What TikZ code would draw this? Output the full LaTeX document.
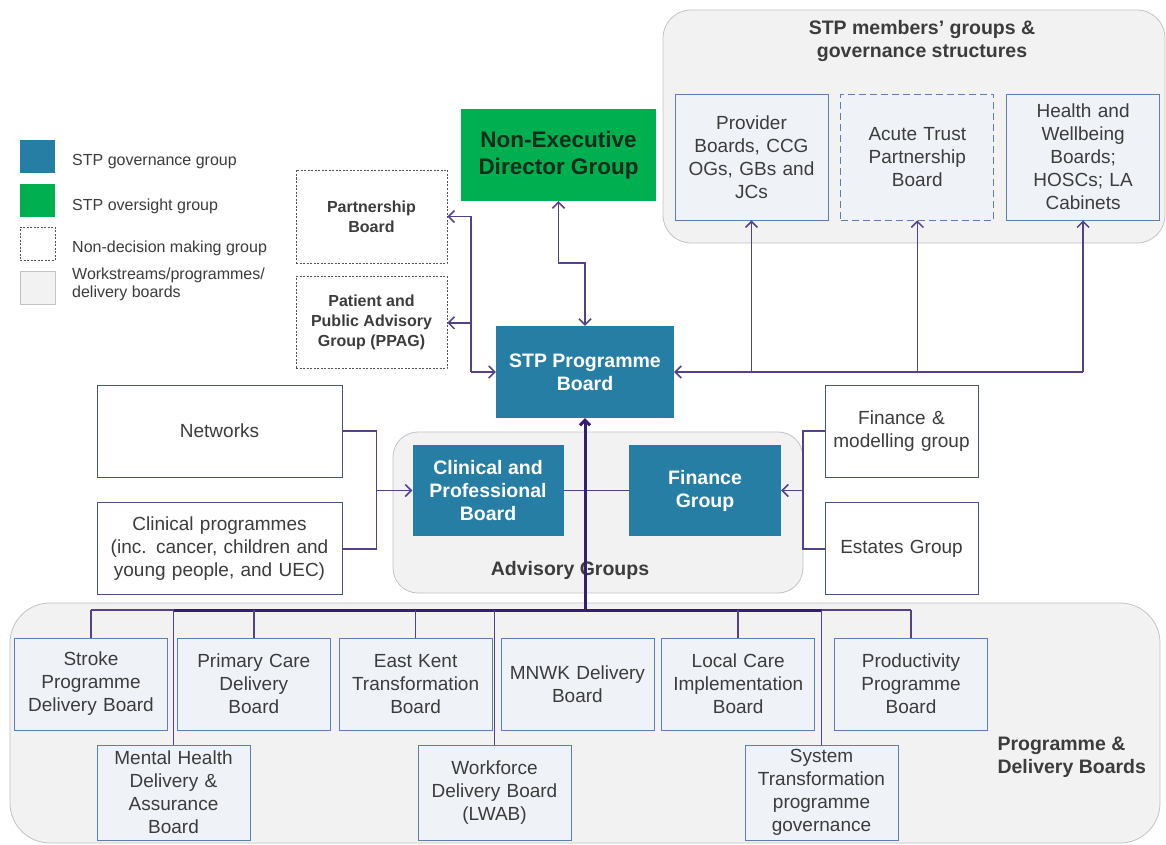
\documentclass[tikz,border=0pt]{standalone}
\usepackage{fontspec}
\setmainfont{Liberation Sans}
\usetikzlibrary{positioning, calc, arrows.meta}
\definecolor{govblue}{RGB}{38,126,164}
\definecolor{oversightgreen}{RGB}{0,176,80}
\definecolor{nedtext}{RGB}{18,44,26}
\definecolor{linkpurple}{RGB}{84,64,140}
\definecolor{busline}{RGB}{52,30,110}
\definecolor{framegrey}{RGB}{242,242,242}
\definecolor{frameline}{RGB}{195,195,195}
\definecolor{boxline}{RGB}{92,126,176}
\definecolor{boxfill}{RGB}{239,242,247}
\definecolor{feedline}{RGB}{74,84,130}
\definecolor{dashgrey}{RGB}{90,80,90}
\definecolor{textgrey}{RGB}{60,60,60}
\tikzstyle{govbox} = [rectangle, fill=govblue, text=white, font=\bfseries\fontsize{19.5}{23}\selectfont, align=center]
\tikzstyle{oversightbox} = [rectangle, fill=oversightgreen, text=nedtext, font=\bfseries\fontsize{22.5}{27}\selectfont, align=center, minimum width=195pt, minimum height=92pt]
\tikzstyle{nondecision} = [rectangle, draw=dashgrey, thick, dash pattern=on 2pt off 1.5pt, fill=white, text=textgrey, font=\bfseries\fontsize{16}{20}\selectfont, align=center, minimum width=151pt, minimum height=93pt]
\tikzstyle{groupframe} = [rectangle, rounded corners=28pt, fill=framegrey, draw=frameline, thick]
\tikzstyle{frametitle} = [text=textgrey, font=\bfseries\fontsize{19.5}{23}\selectfont, align=center]
\tikzstyle{memberbox} = [rectangle, draw=boxline, thick, fill=boxfill, text=textgrey, font=\fontsize{19}{23}\selectfont, align=center, text width=145pt, inner xsep=4pt, minimum height=126pt]
\tikzstyle{deliverybox} = [memberbox, minimum height=92pt]
\tikzstyle{feedbox} = [rectangle, draw=feedline, thick, fill=white, text=textgrey, font=\fontsize{19}{23}\selectfont, align=center, inner xsep=4pt, minimum height=92pt]
\tikzstyle{legendkey} = [rectangle, minimum width=35pt, minimum height=33pt, inner sep=0pt]
\tikzstyle{legendtext} = [text=textgrey, font=\fontsize{16}{18}\selectfont, align=left, anchor=west, inner sep=0pt]
\tikzstyle{link} = [draw=linkpurple, line width=1.5pt]
\tikzstyle{arrow} = [link, -{Straight Barb[length=6pt,width=12pt]}]
\tikzstyle{twoway} = [link, {Straight Barb[length=6pt,width=12pt]}-{Straight Barb[length=6pt,width=12pt]}]
\tikzstyle{bus} = [draw=busline, line width=3pt]
\begin{document}
\begin{tikzpicture}[x=1pt, y=-1pt]
		\useasboundingbox [fill=white] (0,0) rectangle (1166,845);
		% legend
		\node (LegGov) [legendkey, fill=govblue] at (37.5,156.5) {};
		\node (LegOver) [legendkey, fill=oversightgreen] at (37.5,200.5) {};
		\node (LegNon) [legendkey, fill=white, draw=dashgrey, dash pattern=on 2pt off 1.5pt] at (37.5,243.5) {};
		\node (LegWork) [legendkey, fill=framegrey, draw=frameline, thick] at (37.5,287.5) {};
		\node [legendtext] at (72,162) {STP governance group};
		\node [legendtext] at (72,206) {STP oversight group};
		\node [legendtext] at (72,248) {Non-decision making group};
		\node [legendtext] at (72,284) {Workstreams/programmes/\\delivery boards};
		
		% group frames
		\node (Members) [groupframe, minimum width=502pt, minimum height=233pt] at (914,126.5) {};
		\node (Advisory) [groupframe, rounded corners=25pt, minimum width=410pt, minimum height=161pt] at (598,512.5) {};
		\node (Programme) [groupframe, rounded corners=40pt, minimum width=1150pt, minimum height=240pt] at (585,723) {};
		\node (MembersTitle) [frametitle] at (922,41) {STP members' groups \&\\governance structures};
		\node (AdvisoryTitle) [frametitle] at (570,570) {Advisory Groups};
		\node (ProgrammeTitle) [frametitle, align=left, anchor=west] at (994,757) {Programme \&\\Delivery Boards};
		
		% top
		\node (Partnership) [nondecision] at (371.5,216.5) {Partnership\\Board};
		\node (PPAG) [nondecision, below = 13pt of Partnership, minimum height=92pt] {Patient and\\Public Advisory\\Group (PPAG)};
		\node (NED) [oversightbox] at (558.5,155) {Non-Executive\\Director Group};
		\node (STP) [govbox, minimum width=178pt, minimum height=92pt] at (585,372) {STP Programme\\Board};
		\node (Provider) [memberbox] at (751.5,157) {Provider\\Boards, CCG\\OGs, GBs and\\JCs};
		\node (Acute) [memberbox, right = 12pt of Provider, dash pattern=on 7pt off 4pt] {Acute Trust\\Partnership\\Board};
		\node (Health) [memberbox, right = 12pt of Acute] {Health and\\Wellbeing\\Boards;\\HOSCs; LA\\Cabinets};
		
		% advisory
		\node (Networks) [feedbox, text width=237pt] at (219.5,431) {Networks};
		\node (ClinProg) [feedbox, text width=237pt, below = 25pt of Networks] {Clinical programmes\\(inc. cancer, children and\\young people, and UEC)};
		\node (CPB) [govbox, minimum width=151pt, minimum height=91pt] at (488,490.5) {Clinical and\\Professional\\Board};
		\node (Finance) [govbox, minimum width=152pt, minimum height=91pt] at (705,490.5) {Finance\\Group};
		\node (FinMod) [feedbox, text width=145pt] at (901.5,431) {Finance \&\\modelling group};
		\node (Estates) [feedbox, text width=145pt, below = 25pt of FinMod] {Estates Group};
		
		% delivery boards
		\node (Stroke) [deliverybox] at (91,684) {Stroke\\Programme\\Delivery Board};
		\node (Primary) [deliverybox, right = 9pt of Stroke] {Primary Care\\Delivery\\Board};
		\node (EastKent) [deliverybox, right = 8pt of Primary] {East Kent\\Transformation\\Board};
		\node (MNWK) [deliverybox, right = 8pt of EastKent] {MNWK Delivery\\Board};
		\node (LocalCare) [deliverybox, right = 7pt of MNWK] {Local Care\\Implementation\\Board};
		\node (Productivity) [deliverybox, right = 19pt of LocalCare] {Productivity\\Programme\\Board};
		\node (Mental) [deliverybox, minimum height=95pt] at (173.5,792.5) {Mental Health\\Delivery \&\\Assurance\\Board};
		\node (Workforce) [deliverybox, minimum height=95pt] at (494.5,792.5) {Workforce\\Delivery Board\\(LWAB)};
		\node (System) [deliverybox, minimum height=95pt] at (821.5,792.5) {System\\Transformation\\programme\\governance};
		
		% connectors
		\draw [twoway] (NED.south) -- ++(0,62) -| (STP.north);
		\coordinate (LeftJoin) at ($(STP.west)+(-25,0)$);
		\draw [arrow] (LeftJoin) -- (STP.west);
		\draw [arrow] (LeftJoin) |- (Partnership.east);
		\draw [arrow] (LeftJoin |- PPAG.east) -- (PPAG.east);
		\coordinate (RightJoin) at (Health.south |- STP.east);
		\draw [arrow] (RightJoin) -- (STP.east);
		\draw [arrow] (RightJoin) -- (Health.south);
		\draw [arrow] (Provider.south |- STP.east) -- (Provider.south);
		\draw [arrow] (Acute.south |- STP.east) -- (Acute.south);
		
		\coordinate (NetJoin) at ($(CPB.west)+(-36,0)$);
		\draw [link] (Networks.east) -| (NetJoin) |- (ClinProg.east);
		\draw [arrow] (NetJoin) -- (CPB.west);
		\coordinate (FinJoin) at ($(Finance.east)+(22,0)$);
		\draw [link] (FinMod.west) -| (FinJoin) |- (Estates.west);
		\draw [arrow] (FinJoin) -- (Finance.east);
		\draw [link] (CPB.east) -- (Finance.west);
		
		\coordinate (Bus) at (0,610);
		\draw [link] (Stroke.north |- Bus) -- (Productivity.north |- Bus);
		\draw [bus] (Mental.north |- Bus) -- (System.north |- Bus);
		\draw [bus, -{Straight Barb[length=5pt,width=10pt]}] (STP.south |- Bus) -- (STP.south);
		\foreach \board in {Stroke, Primary, EastKent, LocalCare, Productivity, Mental, Workforce, System}
			\draw [link] (\board.north |- Bus) -- (\board.north);
		\end{tikzpicture}
\end{document}
